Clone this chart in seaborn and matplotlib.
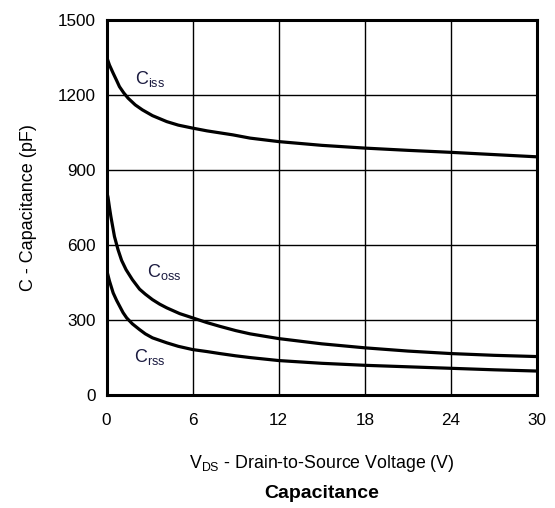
import matplotlib
matplotlib.use("Agg")
import matplotlib.pyplot as plt
import numpy as np
import pandas as pd
import seaborn as sns

# Capacitance vs. drain-to-source voltage
v_iss = [0, 0.2, 0.46, 0.7, 0.9, 1.2, 1.5, 2.0, 2.5, 3.2, 4.2, 5.0, 6, 7.0, 8.8,
         10, 12, 15, 18, 21, 24, 27, 30]
c_iss = [1353, 1320, 1287, 1258, 1233, 1208, 1187, 1160, 1140, 1117, 1093, 1079, 1067,
         1056, 1040, 1027, 1013, 998, 987, 978, 970, 961, 952]

v_oss = [0, 0.1, 0.2, 0.3, 0.45, 0.55, 0.8, 1.05, 1.36, 1.8, 2.3, 2.7, 3.2, 3.7, 4.2,
         5.1, 6, 7.0, 7.9, 9.0, 10, 12, 15, 18, 21, 24, 27, 30]
c_oss = [815, 790, 750, 713, 665, 633, 580, 537, 500, 460, 422, 402, 380, 362, 347,
         324, 307, 288, 273, 256, 243, 224, 203, 187, 174, 164, 157, 152]

v_rss = [0, 0.2, 0.46, 0.7, 0.92, 1.15, 1.4, 1.8, 2.3, 2.7, 3.2, 4.2, 5.0, 6, 7.0, 7.9,
         9.0, 10, 12, 15, 18, 21, 24, 27, 30]
c_rss = [500, 455, 407, 377, 353, 328, 307, 283, 260, 243, 227, 207, 193, 180, 172, 164,
         155, 148, 136, 125, 117, 111, 105, 99, 94]

x_ticks = [0, 6, 12, 18, 24, 30]
y_ticks = [0, 300, 600, 900, 1200, 1500]

df = pd.concat([
    pd.DataFrame({"V": v_iss, "C": c_iss, "series": "iss"}),
    pd.DataFrame({"V": v_oss, "C": c_oss, "series": "oss"}),
    pd.DataFrame({"V": v_rss, "C": c_rss, "series": "rss"}),
])

sns.set_theme(style="white")
plt.rcParams["font.family"] = ["Liberation Sans", "DejaVu Sans"]
plt.rcParams["mathtext.fontset"] = "custom"
plt.rcParams["mathtext.rm"] = "Liberation Sans"

fig = plt.figure(figsize=(5.55, 5.08), dpi=100)
ax = fig.add_axes([0.192, 0.2234, 0.7756, 0.7372])

sns.lineplot(data=df, x="V", y="C", hue="series",
             palette=["black", "black", "black"], linewidth=2.3,
             legend=False, ax=ax, estimator=None, sort=True)
for line in ax.get_lines():
    line.set_solid_joinstyle("round")
    line.set_solid_capstyle("round")

ax.set_xlim(0, 30)
ax.set_ylim(0, 1500)
ax.set_xticks(x_ticks)
ax.set_yticks(y_ticks)
ax.grid(True, color="black", linewidth=1.0)
ax.set_axisbelow(True)
for s in ax.spines.values():
    s.set_color("black")
    s.set_linewidth(2.2)
ax.tick_params(axis="both", length=0, labelsize=12.3, colors="black")
ax.tick_params(axis="x", pad=13)
ax.tick_params(axis="y", pad=8)

label_color = "#1b1b40"
ax.text(1.95, 1262, r"$\mathregular{C_{iss}}$", fontsize=13, color=label_color, va="center")
ax.text(2.8, 492, r"$\mathregular{C_{oss}}$", fontsize=13, color=label_color, va="center")
ax.text(1.9, 152, r"$\mathregular{C_{rss}}$", fontsize=13, color=label_color, va="center")

ax.set_xlabel(r"$\mathregular{V_{DS}}$ - Drain-to-Source Voltage (V)", fontsize=12.8,
              color="black", labelpad=18)
ax.set_ylabel("C - Capacitance (pF)", fontsize=13, color="black", labelpad=15)

fig.text(0.5 * (0.192 + 0.9676), 1 - 494 / 508, "Capacitance", fontsize=14,
         fontweight="bold", ha="center", va="center", color="black")

fig.savefig("out.png", dpi=100, facecolor="white")
